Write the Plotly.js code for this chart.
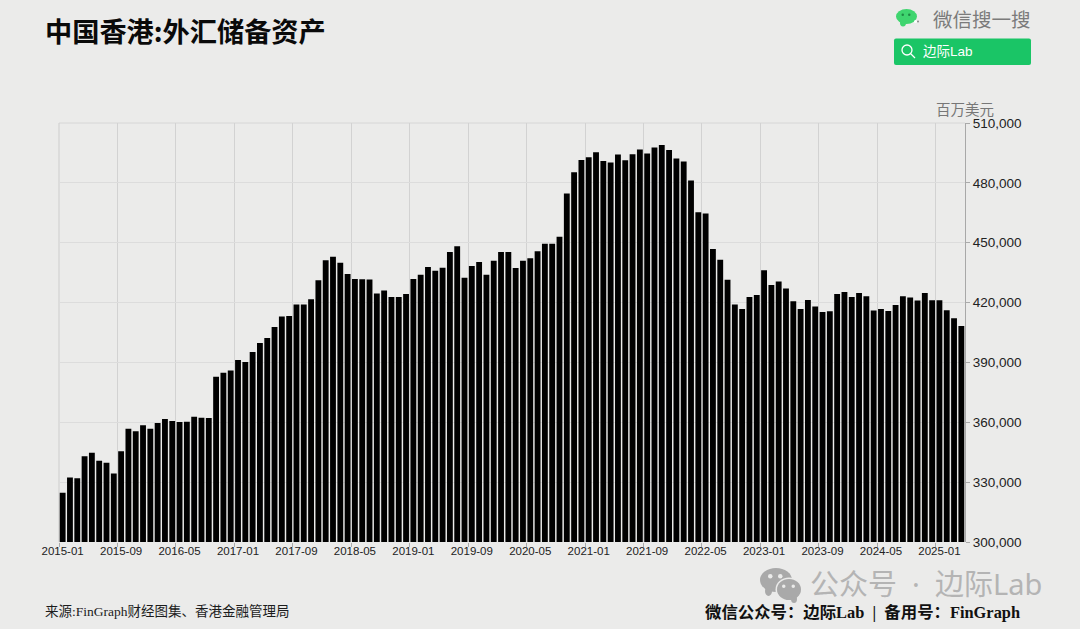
<!DOCTYPE html>
<html>
<head>
<meta charset="utf-8">
<script src="https://cdn.plot.ly/plotly-3.0.1.min.js"></script>
<style>html,body{margin:0;padding:0;background:#ebebea;}#chart{width:1080px;height:629px;}</style>
</head>
<body>
<div id="chart"></div>
<script>
const months = [
"2015-01","2015-02","2015-03","2015-04","2015-05","2015-06","2015-07","2015-08","2015-09","2015-10","2015-11","2015-12",
"2016-01","2016-02","2016-03","2016-04","2016-05","2016-06","2016-07","2016-08","2016-09","2016-10","2016-11","2016-12",
"2017-01","2017-02","2017-03","2017-04","2017-05","2017-06","2017-07","2017-08","2017-09","2017-10","2017-11","2017-12",
"2018-01","2018-02","2018-03","2018-04","2018-05","2018-06","2018-07","2018-08","2018-09","2018-10","2018-11","2018-12",
"2019-01","2019-02","2019-03","2019-04","2019-05","2019-06","2019-07","2019-08","2019-09","2019-10","2019-11","2019-12",
"2020-01","2020-02","2020-03","2020-04","2020-05","2020-06","2020-07","2020-08","2020-09","2020-10","2020-11","2020-12",
"2021-01","2021-02","2021-03","2021-04","2021-05","2021-06","2021-07","2021-08","2021-09","2021-10","2021-11","2021-12",
"2022-01","2022-02","2022-03","2022-04","2022-05","2022-06","2022-07","2022-08","2022-09","2022-10","2022-11","2022-12",
"2023-01","2023-02","2023-03","2023-04","2023-05","2023-06","2023-07","2023-08","2023-09","2023-10","2023-11","2023-12",
"2024-01","2024-02","2024-03","2024-04","2024-05","2024-06","2024-07","2024-08","2024-09","2024-10","2024-11","2024-12",
"2025-01","2025-02","2025-03","2025-04"];
const reserves = [
324700,332300,332000,343000,344700,340700,339700,334300,345500,356800,355500,358500,
356800,359700,361700,360700,360200,360300,362800,362300,362200,382800,384800,386000,
391200,390200,395200,399700,402300,407700,413000,413300,419000,419000,421700,431200,
441200,443000,440000,434300,431800,431700,431600,424500,426000,422800,422800,424300,
431800,434000,437800,436000,437500,445300,448200,432500,438300,440300,434000,441000,
445300,445300,437300,441000,442200,445700,449500,449500,453000,474700,485300,491500,
492800,495300,491000,490200,494200,491300,494300,496700,494700,497700,499000,496500,
492200,490700,481200,465300,464700,446800,441500,431500,419000,416800,422800,423800,
436200,428800,430500,427000,420700,416800,421300,418000,415300,415700,424300,425300,
422800,424800,423200,416000,416800,415800,418800,423200,422500,421000,424800,421200,
421200,416200,412200,408300];

const titleText = "中国香港:外汇储备资产";
const unitText = "百万美元";
const sourceText = "来源:FinGraph财经图集、香港金融管理局";
const footerText = "微信公众号\uFF1A边际Lab\u00a0\u00a0|\u00a0\u00a0备用号\uFF1AFinGraph";
const searchText = "微信搜一搜";
const buttonText = "边际Lab";
const watermarkText = "公众号\u00a0\u00a0·\u00a0\u00a0边际Lab";

const L = 59, R = 965, T = 123, B = 542;
const bg = "#ebebea";
const px = x => (x - L) / (R - L);
const py = y => (B - y) / (B - T);
const sans = '"Liberation Sans", Arial, sans-serif';
const cjk = '"Liberation Sans", "Noto Sans CJK SC", sans-serif';
const cjkOnly = '"Noto Sans CJK SC", sans-serif';
const serif = '"Liberation Serif", "Noto Sans CJK SC", serif';

function label(text, x, y, size, color, anchor, family, bold) {
  return {text: bold ? "<b>" + text + "</b>" : text, xref: "paper", yref: "paper",
    x: px(x), y: py(y), xanchor: anchor, yanchor: "middle", showarrow: false,
    borderpad: 0, font: {size, color, family}};
}
function box(type, x0, y0, x1, y1, fill, line, lw) {
  return {type, xref: "paper", yref: "paper", x0: px(x0), x1: px(x1), y0: py(y0), y1: py(y1),
    fillcolor: fill || "rgba(0,0,0,0)", line: {color: line || "rgba(0,0,0,0)", width: lw || 0}};
}
function roundedButton(x0, y0, x1, y1, r, fill) {
  const X = px, Y = py;
  const path = `M${X(x0 + r)},${Y(y0)} L${X(x1 - r)},${Y(y0)} Q${X(x1)},${Y(y0)} ${X(x1)},${Y(y0 + r)} ` +
    `L${X(x1)},${Y(y1 - r)} Q${X(x1)},${Y(y1)} ${X(x1 - r)},${Y(y1)} L${X(x0 + r)},${Y(y1)} ` +
    `Q${X(x0)},${Y(y1)} ${X(x0)},${Y(y1 - r)} L${X(x0)},${Y(y0 + r)} Q${X(x0)},${Y(y0)} ${X(x0 + r)},${Y(y0)} Z`;
  return {type: "path", xref: "paper", yref: "paper", path, fillcolor: fill, line: {width: 0}};
}
const frameTop = box("line", L, T, R, T, null, "#d6d6d6", 1);
frameTop.layer = "below";
const frameLeft = box("line", L, T, L, B, null, "#cdcdcd", 1);
frameLeft.layer = "below";
const shapes = [
  frameTop, frameLeft,
  // green search button
  roundedButton(894, 38.5, 1031, 65, 2, "#1ac566"),
  box("circle", 902, 45, 912, 55, null, "#ffffff", 1.3),
  box("line", 910.5, 53.5, 915, 58, null, "#ffffff", 1.3),
  // green bubble logo
  box("circle", 896, 9, 917, 24, "#3fd56f"),
  box("circle", 900, 19, 906, 26.5, "#3fd56f"),
  box("circle", 901.5, 13.5, 904, 16, "#1f8a45"),
  box("circle", 908, 13.5, 910.5, 16, "#1f8a45"),
  box("circle", 914, 20, 917, 23, "#ffffff"),
  box("circle", 917, 20.5, 919, 22.5, "#888888"),
  // grey watermark logo
  box("circle", 760, 568, 792, 592, "#a9a9a9"),
  box("circle", 765, 586, 772, 596, "#a9a9a9"),
  box("circle", 768, 574, 772.5, 578.5, bg),
  box("circle", 778, 574, 782.5, 578.5, bg),
  box("circle", 775.5, 577.5, 802.5, 601.5, bg),
  box("circle", 777, 579, 801, 600, "#a9a9a9"),
  box("circle", 791, 595, 797, 603, "#a9a9a9"),
  box("circle", 782, 584.5, 785.5, 588, bg),
  box("circle", 791.5, 584.5, 795, 588, bg)
];
const annotations = [
  label(titleText, 43.5, 30, 27.2, "#0a0a0a", "left", cjkOnly, true),
  label(searchText, 932, 19, 19.5, "#7b7b7b", "left", cjkOnly),
  label(buttonText, 922, 51.5, 13.5, "#ffffff", "left", cjk),
  label(unitText, 965, 109, 14.5, "#777777", "center", cjkOnly),
  label(sourceText, 44, 611, 13.5, "#1c1c1c", "left", serif),
  label(footerText, 1021, 612, 16.4, "#111111", "right", serif, true),
  label(watermarkText, 809, 583, 29, "#b4b4b4", "left", '"Noto Sans", "Noto Sans CJK SC", sans-serif')
];

const trace = {type: "bar", x: months, y: reserves,
  marker: {color: "#000000", line: {width: 0}}, hoverinfo: "x+y"};

const layout = {
  width: 1080, height: 629,
  margin: {l: L, r: 1080 - R, t: T, b: 629 - B, pad: 0},
  paper_bgcolor: bg, plot_bgcolor: bg,
  bargap: 0.2, showlegend: false,
  xaxis: {type: "category", categoryorder: "array", categoryarray: months,
    range: [-0.5, months.length - 0.5], autorange: false,
    tickmode: "linear", tick0: 0, dtick: 8, tickson: "boundaries", tickangle: 0,
    ticks: "outside", ticklen: 4, tickwidth: 1, tickcolor: "#aaaaaa",
    showgrid: true, gridcolor: "#d2d2d2", gridwidth: 1, showline: false, zeroline: false,
    tickfont: {family: sans, size: 11.5, color: "#222222"}},
  yaxis: {side: "right", range: [300000, 510000], autorange: false,
    tickmode: "linear", tick0: 300000, dtick: 30000, tickformat: ",d",
    ticks: "outside", ticklen: 4, tickwidth: 1, tickcolor: "#aaaaaa",
    showgrid: true, gridcolor: "#dcdcdc", gridwidth: 1, griddash: "solid",
    showline: true, linecolor: "#a8a8a8", linewidth: 1, zeroline: false,
    tickfont: {family: sans, size: 13.5, color: "#222222"}},
  shapes, annotations
};
Plotly.newPlot("chart", [trace], layout, {displayModeBar: false, staticPlot: true});
</script>
</body>
</html>
